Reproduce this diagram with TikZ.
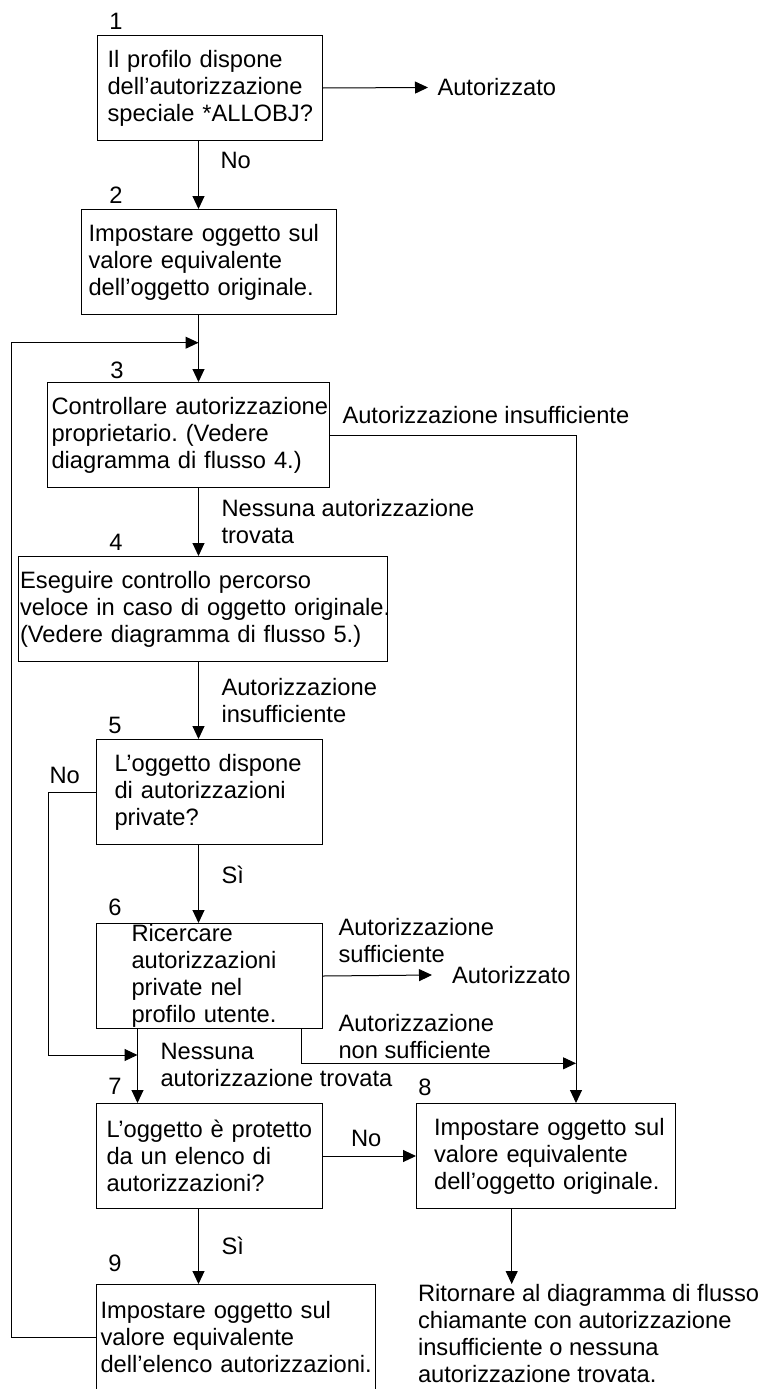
\documentclass[tikz,border=0pt]{standalone}
\usepackage{fontspec}
\setmainfont{Liberation Sans}
\usetikzlibrary{arrows.meta}
\newcommand\flowfont{\fontsize{23.7}{27}\selectfont}
\newcommand\boxtext[2]{\leftskip=#1\relax #2\endgraf}
\hyphenpenalty=10000
\exhyphenpenalty=10000
\frenchspacing
\begin{document}
\begin{tikzpicture}[x=1pt,y=-1pt,line width=1pt,font=\flowfont,
  box/.style={draw,anchor=north west,align=left,minimum height=105pt,inner sep=0pt},
  lbl/.style={anchor=west,align=left,inner sep=0pt},
  num/.style={inner sep=0pt},
  arr/.style={-{Triangle[length=13pt,width=12pt]}}]
  \useasboundingbox (0,0) rectangle (763,1389);
  % guide lines
  \coordinate (sp) at (198.5,0);
  \coordinate (s7) at (137.5,0);
  \coordinate (rt) at (576,0);
  \coordinate (ar) at (511.7,0);
  \coordinate (loop) at (11,342.7);
  \coordinate (nl) at (48.8,1055);
  \coordinate (ns) at (301,1063.3);
  % boxes
  \node[box,text width=225pt] (b1) at (97,35)
    {\boxtext{10pt}{Il profilo dispone\\dell’autorizzazione\\speciale~*ALLOBJ?}};
  \node[box,text width=255pt] (b2) at (81,209)
    {\boxtext{7pt}{Impostare oggetto sul\\valore equivalente\\dell’oggetto originale.}};
  \node[box,text width=281.6pt] (b3) at (47,382)
    {\boxtext{4pt}{Controllare~autorizzazione\\proprietario. (Vedere\\diagramma di flusso 4.)}};
  \node[box,text width=369pt] (b4) at (17.6,556)
    {\boxtext{2pt}{Eseguire controllo percorso\\veloce~in~caso~di~oggetto~originale.\\(Vedere diagramma di flusso 5.)}};
  \node[box,text width=226.3pt] (b5) at (95.7,739)
    {\boxtext{18.3pt}{L’oggetto dispone\\di autorizzazioni\\private?}};
  \node[box,text width=226.3pt] (b6) at (95.7,923)
    {\boxtext{35.3pt}{Ricercare\\autorizzazioni\\private nel\\profilo utente.}};
  \node[box,text width=226.3pt] (b7) at (95.7,1103)
    {\boxtext{10.3pt}{L’oggetto è protetto\\da un elenco di\\autorizzazioni?}};
  \node[box,text width=258.8pt] (b8) at (416,1103)
    {\boxtext{17.6pt}{Impostare oggetto sul\\valore equivalente\\dell’oggetto originale.}};
  \node[box,text width=278.8pt] (b9) at (95.7,1284)
    {\boxtext{4.3pt}{Impostare oggetto sul\\valore equivalente\\dell’elenco~autorizzazioni.}};
  % step numbers
  \node[num] (n1) at (116,21) {1};
  \node[num] (n2) at (116,195) {2};
  \node[num] (n3) at (117,370) {3};
  \node[num] (n4) at (116,542) {4};
  \node[num] (n5) at (115,725) {5};
  \node[num] (n6) at (115,907) {6};
  \node[num] (n7) at (115,1086) {7};
  \node[num] (n8) at (425,1087) {8};
  \node[num] (n9) at (115,1263) {9};
  % end points
  \node[lbl,inner xsep=9pt] (aut1) at (428,87.5) {Autorizzato};
  \node[lbl,inner xsep=19.6pt] (aut2) at (432,975) {Autorizzato};
  \node[lbl,anchor=north west] (ret) at (417.5,1284)
    {Ritornare al diagramma di flusso\\chiamante con autorizzazione\\insufficiente o nessuna\\autorizzazione trovata.};
  % connector labels
  \node[lbl] (l12) at (220,160) {No};
  \node[lbl] (l38) at (342,415) {Autorizzazione insufficiente};
  \node[lbl] (l34) at (221,521.5) {Nessuna autorizzazione\\trovata};
  \node[lbl] (l45) at (221,700.5) {Autorizzazione\\insufficiente};
  \node[lbl] (l57) at (49,775) {No};
  \node[lbl] (l56) at (221,875) {Sì};
  \node[lbl] (l6a) at (338,940.5) {Autorizzazione\\sufficiente};
  \node[lbl] (l68) at (338,1037) {Autorizzazione\\non sufficiente};
  \node[lbl] (l67) at (160,1064.5) {Nessuna\\autorizzazione trovata};
  \node[lbl] (l78) at (350.6,1138) {No};
  \node[lbl] (l79) at (221,1246) {Sì};
  % connectors
  \draw[arr] (b1.east) -- (aut1.west);
  \draw[arr] (b1.south -| sp) -- (b2.north -| sp);
  \draw[arr] (b2.south -| sp) -- (b3.north -| sp);
  \draw[arr] (b9.west) -| (loop) -- (loop -| sp);
  \draw[arr] (b3.south -| sp) -- (b4.north -| sp);
  \draw[arr] (b3.east) -| (b8.north -| rt);
  \draw[arr] (b4.south -| sp) -- (b5.north -| sp);
  \draw[arr] (b5.south -| sp) -- (b6.north -| sp);
  \draw[arr] (b5.west) -| (nl) -- (nl -| s7);
  \draw[arr] (b6.east) -- (aut2.west);
  \draw[arr] (b6.south -| ns) |- (ns -| rt);
  \draw[arr] (b6.south -| s7) -- (b7.north -| s7);
  \draw[arr] (b7.east) -- (b8.west);
  \draw[arr] (b7.south -| sp) -- (b9.north -| sp);
  \draw[arr] (b8.south -| ar) -- (ret.north -| ar);
\end{tikzpicture}
\end{document}
